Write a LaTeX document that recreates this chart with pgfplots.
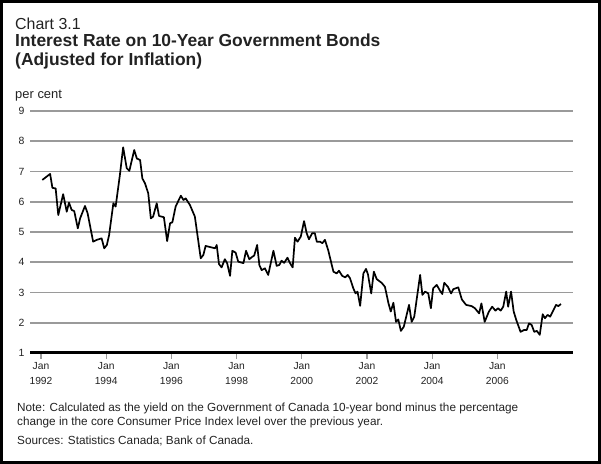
\documentclass[border=0pt]{standalone}
\usepackage{fontspec}
\setmainfont{Liberation Sans}
\usepackage{pgfplots}
\pgfplotsset{compat=1.18}
\definecolor{gridgray}{HTML}{9A9A9A}
\definecolor{txt}{HTML}{222222}
\begin{document}
\begin{tikzpicture}[x=1bp,y=1bp]
\useasboundingbox (0,0) rectangle (601,464);
\draw[line width=3bp, black] (1.5,1.5) rectangle (599.5,462.5);
% titles
\node[anchor=base west, inner sep=0, text=txt] at (15,434) {\fontsize{16}{19}\selectfont Chart 3.1};
\node[anchor=base west, inner sep=0, text=txt] at (15,417.3) {\fontsize{17.5}{20}\selectfont\bfseries Interest Rate on 10-Year Government Bonds};
\node[anchor=base west, inner sep=0, text=txt] at (15,398) {\fontsize{17.5}{20}\selectfont\bfseries (Adjusted for Inflation)};
\node[anchor=base west, inner sep=0, text=txt] at (15,365) {\fontsize{13}{15}\selectfont per cent};
% notes
\node[anchor=base west, inner sep=0, text=txt] at (17,52.5) {\fontsize{11.8}{13}\selectfont Note: Calculated as the yield on the Government of Canada 10-year bond minus the percentage};
\node[anchor=base west, inner sep=0, text=txt] at (17,38.5) {\fontsize{11.8}{13}\selectfont change in the core Consumer Price Index level over the previous year.};
\node[anchor=base west, inner sep=0, text=txt] at (17,19) {\fontsize{11.8}{13}\selectfont Sources: Statistics Canada; Bank of Canada.};
\begin{axis}[
  at={(30bp,111bp)}, anchor=south west,
  scale only axis, width=543bp, height=242bp,
  xmin=1991.663, xmax=2008.32, ymin=1, ymax=9,
  axis x line=bottom, axis y line=left,
  x axis line style={-, line width=3bp, black},
  y axis line style={draw=none},
  ytick={1,...,9},
  xtick={1992,1994,1996,1998,2000,2002,2004,2006},
  xticklabels={Jan\\1992,Jan\\1994,Jan\\1996,Jan\\1998,Jan\\2000,Jan\\2002,Jan\\2004,Jan\\2006},
  ymajorgrids, grid style={gridgray, line width=1.6bp},
  ytick style={draw=none},
  xtick style={gridgray, line width=1.2bp},
  tick align=outside, major tick length=6bp,
  /pgf/number format/assume math mode=true,
  yticklabel style={font=\fontsize{10.5}{12}\selectfont, text=txt, anchor=east, xshift=4bp},
  xticklabel style={font=\fontsize{10.3}{15}\selectfont, text=txt, align=center, anchor=north, yshift=0bp},
  clip=false,
]
\addplot[black, line width=1.7bp, line join=round] table {
x y
1992.04 6.72
1992.28 6.92
1992.35 6.46
1992.45 6.44
1992.53 5.56
1992.68 6.25
1992.79 5.67
1992.86 5.97
1992.94 5.73
1993.02 5.69
1993.13 5.12
1993.20 5.45
1993.35 5.86
1993.43 5.62
1993.60 4.68
1993.71 4.74
1993.86 4.79
1993.94 4.46
1994.02 4.57
1994.09 4.90
1994.22 5.95
1994.29 5.84
1994.42 6.88
1994.52 7.80
1994.63 7.11
1994.71 7.02
1994.86 7.71
1994.94 7.43
1995.04 7.38
1995.11 6.77
1995.19 6.61
1995.29 6.28
1995.37 5.45
1995.44 5.51
1995.55 5.95
1995.62 5.53
1995.77 5.49
1995.87 4.70
1995.96 5.29
1996.03 5.32
1996.13 5.84
1996.29 6.20
1996.37 6.06
1996.44 6.11
1996.57 5.89
1996.72 5.51
1996.90 4.13
1996.98 4.24
1997.05 4.54
1997.34 4.46
1997.39 4.57
1997.46 3.94
1997.54 3.83
1997.64 4.10
1997.71 3.97
1997.80 3.55
1997.87 4.38
1997.97 4.32
1998.05 4.02
1998.21 3.97
1998.29 4.38
1998.39 4.10
1998.48 4.18
1998.54 4.22
1998.63 4.57
1998.70 3.90
1998.77 3.74
1998.87 3.80
1998.97 3.58
1999.13 4.38
1999.23 3.88
1999.31 3.91
1999.38 4.05
1999.46 3.98
1999.56 4.15
1999.64 3.97
1999.72 3.83
1999.79 4.81
1999.87 4.68
1999.97 4.85
2000.07 5.36
2000.15 4.96
2000.22 4.76
2000.32 4.96
2000.40 4.96
2000.46 4.68
2000.56 4.68
2000.63 4.63
2000.71 4.74
2000.81 4.40
2000.97 3.69
2001.07 3.63
2001.14 3.72
2001.24 3.55
2001.33 3.50
2001.41 3.58
2001.48 3.47
2001.58 3.14
2001.65 2.97
2001.71 3.03
2001.79 2.56
2001.89 3.63
2001.97 3.78
2002.03 3.60
2002.13 2.97
2002.21 3.69
2002.30 3.44
2002.45 3.32
2002.55 3.19
2002.66 2.64
2002.73 2.37
2002.81 2.66
2002.89 2.03
2002.96 2.11
2003.04 1.73
2003.13 1.87
2003.29 2.59
2003.37 2.03
2003.45 2.20
2003.63 3.58
2003.70 2.92
2003.78 3.03
2003.88 2.97
2003.96 2.48
2004.03 3.14
2004.14 3.25
2004.24 3.06
2004.31 2.95
2004.37 3.32
2004.48 3.19
2004.58 2.97
2004.65 3.11
2004.80 3.17
2004.91 2.77
2005.04 2.59
2005.21 2.55
2005.31 2.48
2005.44 2.31
2005.51 2.64
2005.61 2.03
2005.74 2.37
2005.84 2.53
2005.94 2.40
2006.02 2.48
2006.10 2.40
2006.18 2.53
2006.27 3.03
2006.33 2.53
2006.42 3.03
2006.50 2.37
2006.58 2.09
2006.71 1.70
2006.82 1.76
2006.90 1.76
2006.97 1.98
2007.05 1.93
2007.13 1.70
2007.21 1.73
2007.30 1.60
2007.39 2.28
2007.46 2.15
2007.54 2.26
2007.62 2.20
2007.72 2.42
2007.80 2.59
2007.87 2.55
2007.95 2.62
};
\end{axis}
\end{tikzpicture}
\end{document}
